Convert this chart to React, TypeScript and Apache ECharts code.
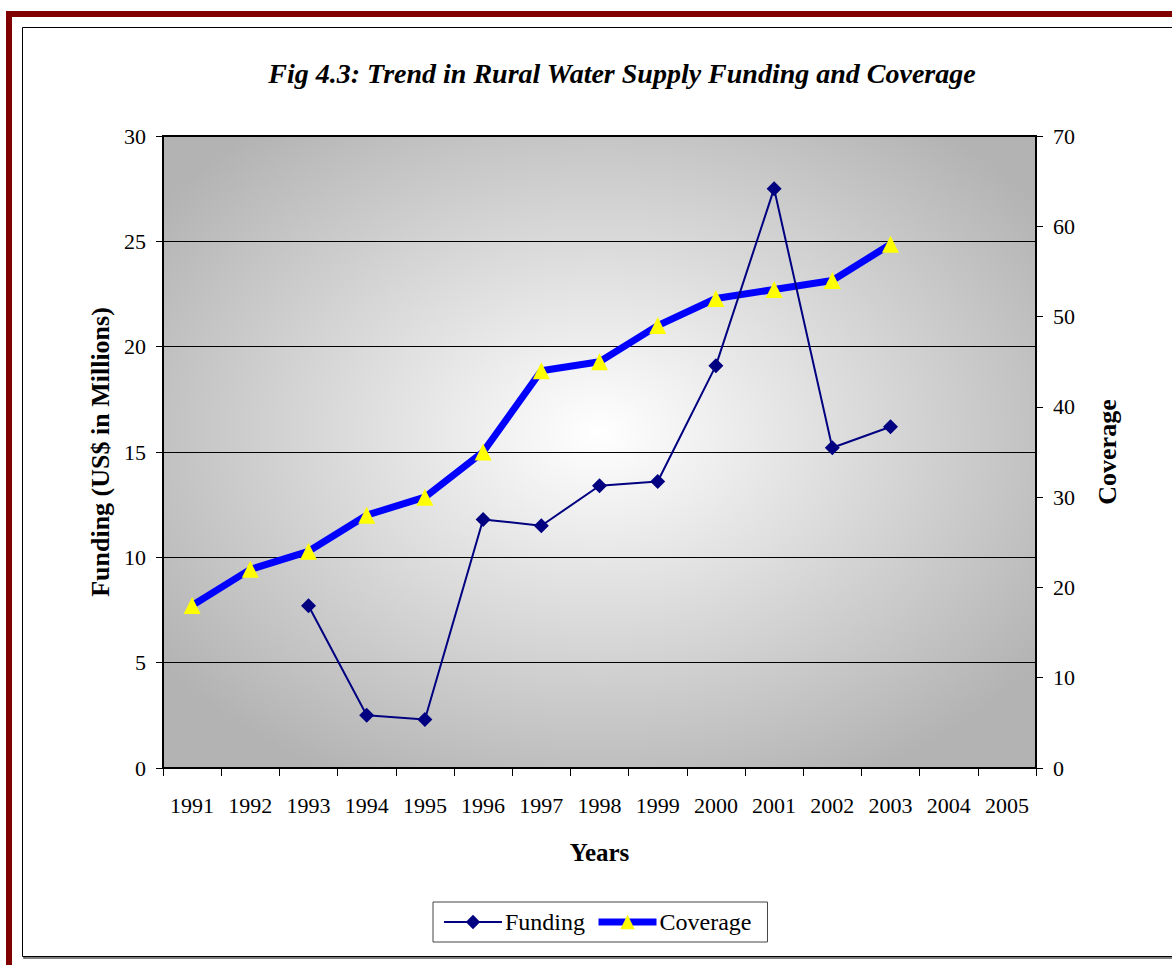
import React, { useEffect, useRef } from "react";
import * as echarts from "echarts";

const years = ["1991","1992","1993","1994","1995","1996","1997","1998","1999","2000","2001","2002","2003","2004","2005"];
const funding: (number | null)[] = [null, null, 7.7, 2.5, 2.3, 11.8, 11.5, 13.4, 13.6, 19.1, 27.5, 15.2, 16.2, null, null];
const coverage: (number | null)[] = [18, 22, 24, 28, 30, 35, 44, 45, 49, 52, 53, 54, 58, null, null];

const FONT = "Liberation Serif";

export default function App() {
  const ref = useRef<HTMLDivElement>(null);
  useEffect(() => {
    if (!ref.current) return;
    const chart = echarts.init(ref.current, null, { renderer: "svg" });
    chart.setOption({
      animation: false,
      backgroundColor: "#ffffff",
      textStyle: { fontFamily: FONT, color: "#000" },
      graphic: [
        { type: "rect", z: -10, shape: { x: 6, y: 11, width: 1180, height: 6 }, style: { fill: "#800000" } },
        { type: "rect", z: -10, shape: { x: 6, y: 11, width: 6, height: 960 }, style: { fill: "#800000" } },
        { type: "rect", z: -10, shape: { x: 24, y: 29, width: 1160, height: 929 }, style: { fill: "none", stroke: "#555", lineWidth: 1.5 } },
        { type: "rect", z: -9, shape: { x: 22.5, y: 27.5, width: 1160, height: 929 }, style: { fill: "#fff", stroke: "#000", lineWidth: 1 } },
      ],
      title: {
        text: "Fig 4.3: Trend in Rural Water Supply Funding and Coverage",
        left: 617,
        textAlign: "center",
        top: 54,
        textStyle: { fontFamily: FONT, fontSize: 28, fontWeight: "bold", fontStyle: "italic", color: "#000" },
      },
      legend: {
        left: 433,
        top: 902,
        padding: [8, 16, 8, 10],
        borderColor: "#444",
        borderWidth: 1,
        itemWidth: 58,
        itemHeight: 18,
        itemGap: 10,
        textStyle: { fontFamily: FONT, fontSize: 24, color: "#000", padding: [0, 0, 0, -2] },
        data: [
          { name: "Funding", itemStyle: { color: "#000080" }, lineStyle: { color: "#000080", width: 2 } },
          { name: "Coverage", itemStyle: { color: "#ffff00" }, lineStyle: { color: "#0000ff", width: 7 } },
        ],
      },
      grid: {
        left: 163,
        top: 136,
        right: 136,
        bottom: 197,
        show: true,
        borderColor: "#000",
        borderWidth: 2,
        backgroundColor: new echarts.graphic.RadialGradient(0.5, 0.47, 0.62, [
          { offset: 0, color: "#ffffff" },
          { offset: 1, color: "#b3b3b3" },
        ]),
      },
      xAxis: {
        type: "category",
        data: years,
        boundaryGap: true,
        name: "Years",
        nameLocation: "middle",
        nameGap: 72,
        nameTextStyle: { fontFamily: FONT, fontSize: 25, fontWeight: "bold", color: "#000" },
        axisLine: { lineStyle: { color: "#000", width: 2 } },
        axisTick: { show: true, length: 8, lineStyle: { color: "#000", width: 1 } },
        axisLabel: { fontFamily: FONT, fontSize: 22, color: "#000", margin: 26, interval: 0 },
        splitLine: { show: false },
      },
      yAxis: [
        {
          type: "value",
          min: 0,
          max: 30,
          interval: 5,
          position: "left",
          name: "Funding (US$ in Millions)",
          nameLocation: "middle",
          nameGap: 46,
          nameRotate: 90,
          nameTextStyle: { fontFamily: FONT, fontSize: 26, fontWeight: "bold", color: "#000" },
          axisLine: { show: true, lineStyle: { color: "#000", width: 2 } },
          axisTick: { show: true, length: 7, lineStyle: { color: "#000" } },
          axisLabel: { fontFamily: FONT, fontSize: 22, color: "#000", margin: 17 },
          splitLine: { show: true, lineStyle: { color: "#000", width: 1 } },
        },
        {
          type: "value",
          min: 0,
          max: 70,
          interval: 10,
          position: "right",
          name: "Coverage",
          nameLocation: "middle",
          nameGap: 58,
          nameRotate: 90,
          nameTextStyle: { fontFamily: FONT, fontSize: 26, fontWeight: "bold", color: "#000" },
          axisLine: { show: true, lineStyle: { color: "#000", width: 2 } },
          axisTick: { show: true, length: 7, lineStyle: { color: "#000" } },
          axisLabel: { fontFamily: FONT, fontSize: 22, color: "#000", margin: 17 },
          splitLine: { show: false },
        },
      ],
      series: [
        {
          name: "Funding",
          type: "line",
          yAxisIndex: 0,
          data: funding,
          connectNulls: false,
          symbol: "diamond",
          symbolSize: 15,
          lineStyle: { color: "#000080", width: 2 },
          itemStyle: { color: "#000080" },
          z: 3,
        },
        {
          name: "Coverage",
          type: "line",
          yAxisIndex: 1,
          data: coverage,
          symbol: "triangle",
          symbolSize: 17,
          lineStyle: { color: "#0000ff", width: 7 },
          itemStyle: { color: "#ffff00" },
          z: 2,
        },
      ],
    });
    return () => chart.dispose();
  }, []);
  return (
    <div
      ref={ref}
      style={{ position: "fixed", left: 0, top: 0, width: 1172, height: 965 }}
    />
  );
}
